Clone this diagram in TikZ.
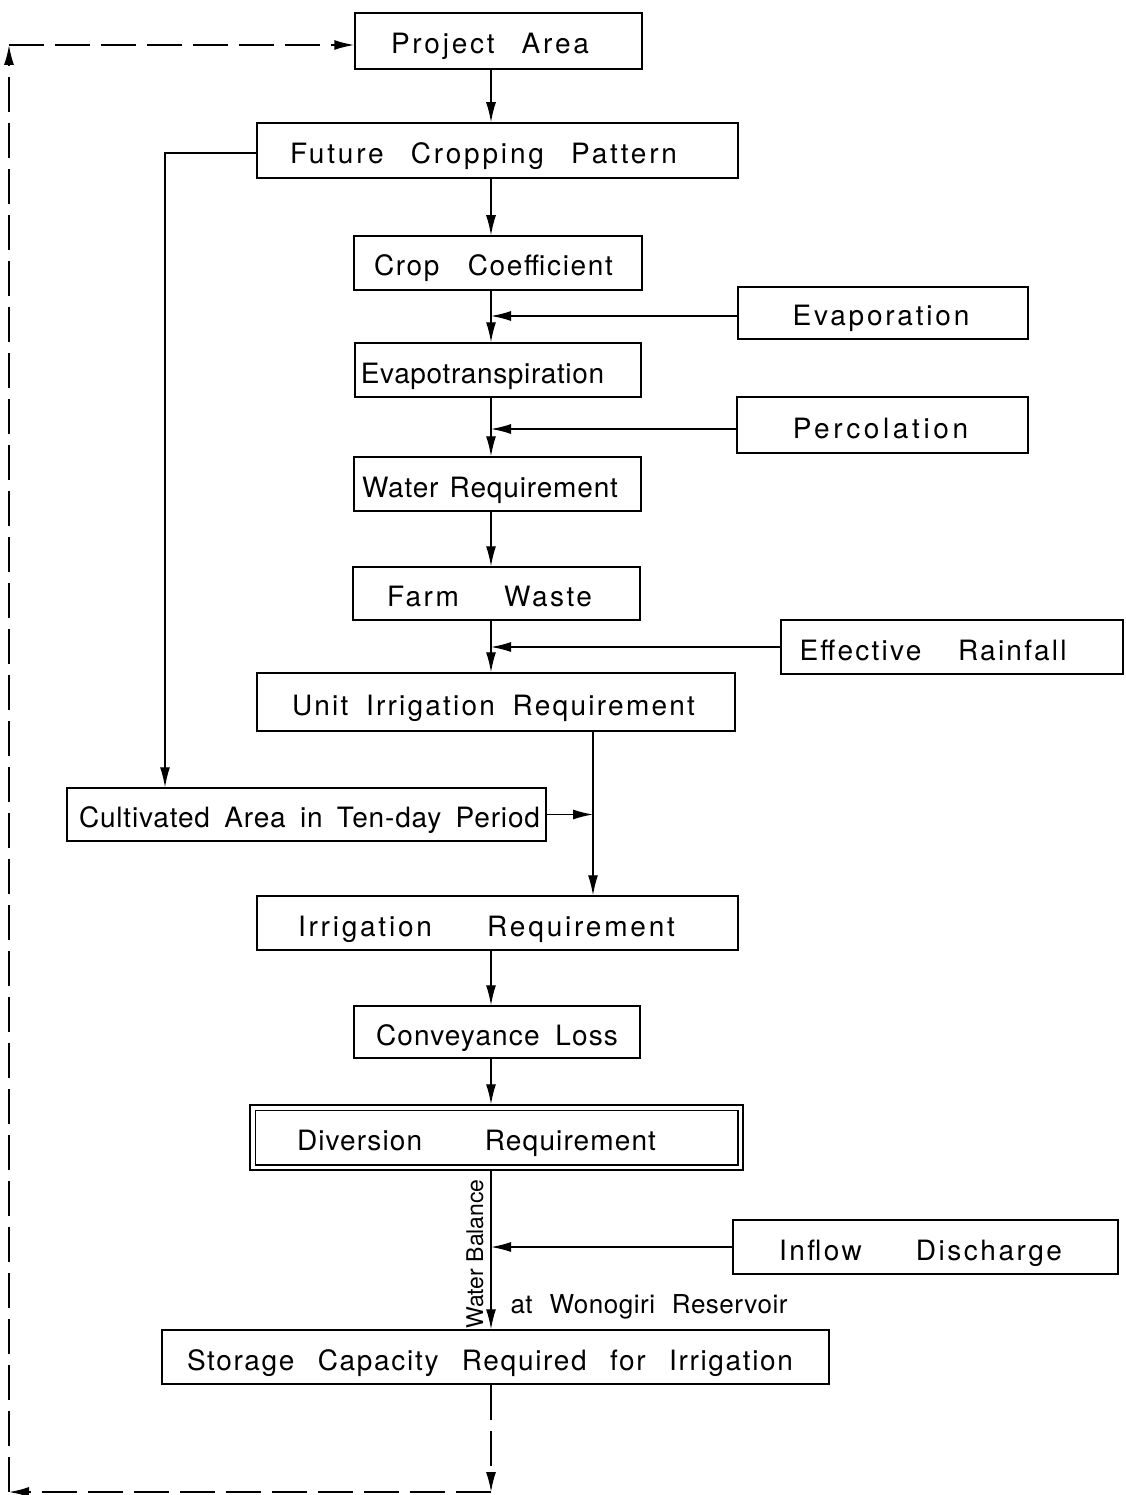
\documentclass[tikz,border=0pt]{standalone}
\usepackage{fontspec}
\setmainfont{TeX Gyre Heros}[LetterSpace=5]
\usetikzlibrary{arrows.meta}
% \lbl[letterspace]{width}{shift}{text}
\newcommand\lbl[4][6]{\hspace*{\dimexpr #3pt\relax}\makebox[#2pt][s]{\addfontfeatures{LetterSpace=#1}#4}\hspace*{\dimexpr -#3pt\relax}}
\newcommand\wrd[4]{\hspace*{\dimexpr #2pt\relax}\makebox[#1pt]{\addfontfeatures{LetterSpace=#3}#4}\hspace*{\dimexpr -#2pt\relax}}
\tikzset{
  box/.style={draw, line width=1.5pt, rectangle, inner sep=0pt,
    font=\fontsize{28}{32}\selectfont, text height=26pt, text depth=0pt},
  conn/.style={line width=1.4pt, -{Latex[length=20pt,width=10pt]}},
  dashline/.style={line width=1.6pt, dash pattern=on 35pt off 11pt, -{Latex[length=20pt,width=10pt]}}
}
\begin{document}
\begin{tikzpicture}[x=1pt,y=-1pt]
\useasboundingbox (0,0) rectangle (1125,1495);
\coordinate (sp) at (491,0);
\coordinate (sp2) at (593,0);
\coordinate (lf) at (165,0);

\node[box, minimum width=287pt, minimum height=56pt] (pa) at (498.5,41) {\lbl[10]{198}{-8.5}{Project Area}};
\node[box, minimum width=481pt, minimum height=55pt] (fcp) at (497.5,150.5) {\lbl[10]{387}{-14}{Future Cropping Pattern}};
\node[box, minimum width=288pt, minimum height=54pt] (cc) at (498,263) {\lbl[6]{239}{-4.5}{Crop Coefficient}};
\node[box, minimum width=290pt, minimum height=52pt] (evap) at (883,313) {\wrd{178}{-2}{10}{Evaporation}};
\node[box, minimum width=286pt, minimum height=54pt] (et) at (498,370) {\wrd{245}{-15.5}{2.3}{Evapotranspiration}};
\node[box, minimum width=291pt, minimum height=56pt] (perc) at (882.5,425) {\wrd{179}{-2}{13}{Percolation}};
\node[box, minimum width=287pt, minimum height=54pt] (wr) at (497.5,484) {\lbl[3]{256}{-7.5}{Water Requirement}};
\node[box, minimum width=287pt, minimum height=53pt] (fw) at (496.5,593.5) {\lbl[9]{205}{-7}{Farm Waste}};
\node[box, minimum width=342pt, minimum height=54pt] (er) at (952,647) {\lbl[8]{267}{-19}{Effective Rainfall}};
\node[box, minimum width=478pt, minimum height=58pt] (uir) at (496,702) {\lbl[8]{403}{-2.5}{Unit Irrigation Requirement}};
\node[box, minimum width=479pt, minimum height=53pt] (ca) at (306.5,814.5) {\lbl[3]{461}{3}{Cultivated Area in Ten-day Period}};
\node[box, minimum width=481pt, minimum height=54pt] (ir) at (497.5,923) {\lbl[10]{377}{-11}{Irrigation Requirement}};
\node[box, minimum width=286pt, minimum height=52pt] (cl) at (497,1032) {\lbl[4]{242}{0}{Conveyance Loss}};
\node[box, minimum width=493pt, minimum height=65pt] (dr) at (496.5,1137.5) {\lbl[4]{359}{-20}{Diversion Requirement}};
\draw[line width=1.5pt] ([xshift=6pt,yshift=-6pt]dr.north west) rectangle ([xshift=-6pt,yshift=6pt]dr.south east);
\node[box, minimum width=385pt, minimum height=54pt] (id) at (925.5,1247) {\lbl[9]{283}{-5}{Inflow Discharge}};
\node[box, minimum width=667pt, minimum height=54pt] (sc) at (495.5,1357) {\lbl[6]{606}{-5.5}{Storage Capacity Required for Irrigation}};

\node[rotate=90, inner sep=0pt, font=\fontsize{23}{26}\selectfont\addfontfeatures{LetterSpace=0}] (wb) at (475,1254) {Water Balance};
\node[inner sep=0pt, font=\fontsize{26}{29}\selectfont, text height=19pt, text depth=0pt] (wono) at (649,1304) {\lbl[2]{277}{0}{at Wonogiri Reservoir}};

% main spine
\draw[conn] (pa.south -| sp) -- (fcp.north -| sp);
\draw[conn] (fcp.south -| sp) -- (cc.north -| sp);
\draw[conn] (cc.south -| sp) -- (et.north -| sp);
\draw[conn] ([yshift=-3pt]evap.west) -- ([yshift=-3pt]evap.west -| sp);
\draw[conn] (et.south -| sp) -- (wr.north -| sp);
\draw[conn] ([yshift=-4pt]perc.west) -- ([yshift=-4pt]perc.west -| sp);
\draw[conn] (wr.south -| sp) -- (fw.north -| sp);
\draw[conn] (fw.south -| sp) -- (uir.north -| sp);
\draw[conn] (er.west) -- (er.west -| sp);
\draw[conn] (uir.south -| sp2) -- (ir.north -| sp2);
\draw[conn] (ca.east) -- (ca.east -| sp2);
\draw[conn] ([yshift=-2.5pt]fcp.west) -- ([yshift=-2.5pt]fcp.west -| lf) -- (ca.north -| lf);
\draw[conn] (ir.south -| sp) -- (cl.north -| sp);
\draw[conn] (cl.south -| sp) -- (dr.north -| sp);
\draw[conn] (dr.south -| sp) -- (sc.north -| sp);
\draw[conn] (id.west) -- (id.west -| sp);

% dashed feedback loop
\coordinate (bd) at (491,1492);
\coordinate (bl) at (9,1492);
\coordinate (tl) at (9,45);
\draw[dashline] (sc.south -| sp) -- (bd);
\draw[dashline] (bd) -- (bl);
\draw[dashline] (bl) -- (tl);
\draw[dashline] (tl) -- (tl -| pa.west);
\end{tikzpicture}
\end{document}
